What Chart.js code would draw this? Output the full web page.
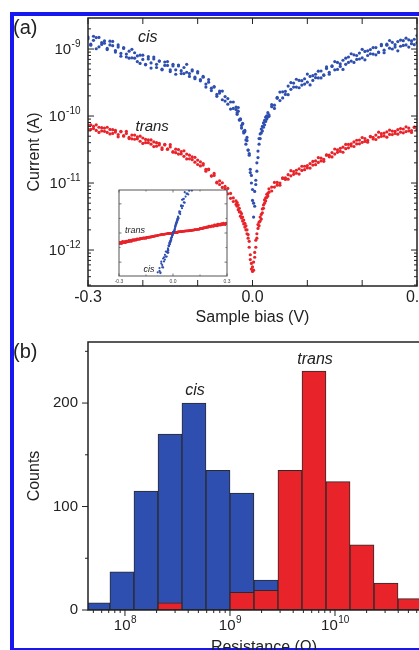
<!DOCTYPE html>
<html>
<head>
<meta charset="utf-8">
<script src="https://cdn.jsdelivr.net/npm/chart.js@4.4.1/dist/chart.umd.min.js"></script>
<style>
  html, body { margin: 0; padding: 0; background: #fff; width: 419px; height: 650px; overflow: hidden; }
  #frame { position: absolute; left: 10px; top: 12px; width: 480px; height: 640px; box-sizing: border-box; border: 4px solid #1717ef; }
  canvas { position: absolute; }
  .tag { position: absolute; font: 20px "Liberation Sans", Arial, sans-serif; color: #222; line-height: 20px; }
</style>
</head>
<body>
<div id="frame"></div>
<canvas id="ivChart" width="460" height="330" style="left:0;top:0"></canvas>
<canvas id="insetChart" width="140" height="106" style="left:100px;top:184px"></canvas>
<canvas id="histChart" width="460" height="340" style="left:0;top:330px"></canvas>
<div class="tag" style="left:13px;top:17px">(a)</div>
<div class="tag" style="left:13px;top:341px">(b)</div>
<script>
// ---- panel (a): I-V curves (two sweeps per molecule) ----
const bias = [
  -0.300, -0.295, -0.290, -0.285, -0.280, -0.275, -0.270, -0.265, -0.260, -0.255,
  -0.250, -0.245, -0.240, -0.235, -0.230, -0.225, -0.220, -0.215, -0.210, -0.205,
  -0.200, -0.195, -0.190, -0.185, -0.180, -0.175, -0.170, -0.165, -0.160, -0.155,
  -0.150, -0.145, -0.140, -0.135, -0.130, -0.125, -0.120, -0.115, -0.110, -0.105,
  -0.100, -0.095, -0.090, -0.085, -0.080, -0.075, -0.070, -0.065, -0.060, -0.055,
  -0.050, -0.045, -0.040, -0.035, -0.030,
  -0.028, -0.026, -0.024, -0.022, -0.020, -0.018, -0.016, -0.014, -0.012, -0.010,
  -0.008, -0.006, -0.004, -0.002, 0.000, 0.002, 0.004, 0.006, 0.008, 0.010,
  0.012, 0.014, 0.016, 0.018, 0.020, 0.022, 0.024, 0.026, 0.028,
  0.030, 0.035, 0.040, 0.045, 0.050, 0.055, 0.060, 0.065, 0.070, 0.075,
  0.080, 0.085, 0.090, 0.095, 0.100, 0.105, 0.110, 0.115, 0.120, 0.125,
  0.130, 0.135, 0.140, 0.145, 0.150, 0.155, 0.160, 0.165, 0.170, 0.175,
  0.180, 0.185, 0.190, 0.195, 0.200, 0.205, 0.210, 0.215, 0.220, 0.225,
  0.230, 0.235, 0.240, 0.245, 0.250, 0.255, 0.260, 0.265, 0.270, 0.275,
  0.280, 0.285, 0.290, 0.295, 0.300
];
const cisCurrent = [
  1.42e-9, 1.18e-9, 1.55e-9, 1.48e-9, 1.08e-9, 1.25e-9, 1.22e-9, 1.02e-9, 1.31e-9, 1.12e-9,
  9.0e-10, 1.15e-9, 8.6e-10, 1.02e-9, 7.6e-10, 9.3e-10, 7.4e-10, 8.8e-10, 6.5e-10, 8.1e-10,
  7.0e-10, 5.8e-10, 7.7e-10, 6.2e-10, 7.1e-10, 5.3e-10, 6.6e-10, 5.0e-10, 6.4e-10, 5.7e-10,
  4.6e-10, 5.9e-10, 4.9e-10, 5.6e-10, 4.3e-10, 5.3e-10, 4.5e-10, 3.9e-10, 4.9e-10, 3.8e-10,
  4.4e-10, 3.5e-10, 3.9e-10, 3.0e-10, 3.2e-10, 2.4e-10, 2.7e-10, 2.1e-10, 2.35e-10, 1.75e-10,
  1.95e-10, 1.5e-10, 1.62e-10, 1.3e-10, 1.36e-10,
  1.12e-10, 1.18e-10, 8.8e-11, 9.1e-11, 7.2e-11, 7.6e-11, 5.9e-11, 6.1e-11, 4.4e-11, 4.3e-11,
  3.1e-11, 2.6e-11, 1.6e-11, 1.0e-11, 5.5e-12, 3.1e-12, 7.5e-12, 9.5e-12, 1.5e-11, 3.0e-11,
  3.8e-11, 5.4e-11, 5.6e-11, 7.0e-11, 6.8e-11, 8.6e-11, 8.3e-11, 1.01e-10, 9.7e-11,
  1.04e-10, 1.38e-10, 1.45e-10, 1.9e-10, 1.7e-10, 2.3e-10, 2.1e-10, 2.8e-10, 2.5e-10, 3.1e-10,
  2.7e-10, 3.4e-10, 2.9e-10, 3.6e-10, 3.2e-10, 3.9e-10, 3.4e-10, 4.2e-10, 3.7e-10, 4.7e-10,
  4.1e-10, 5.1e-10, 4.5e-10, 5.6e-10, 4.9e-10, 6.3e-10, 5.5e-10, 6.8e-10, 5.9e-10, 7.6e-10,
  6.6e-10, 8.2e-10, 7.0e-10, 8.7e-10, 7.4e-10, 9.2e-10, 8.0e-10, 9.8e-10, 8.4e-10, 1.05e-9,
  9.0e-10, 1.12e-9, 9.6e-10, 1.18e-9, 1.03e-9, 1.26e-9, 1.07e-9, 1.29e-9, 1.1e-9, 1.33e-9,
  1.15e-9, 1.37e-9, 1.2e-9, 1.4e-9, 1.24e-9
];
const cisCurrentBack = [
  1.51e-9, 1.14e-9, 1.35e-9, 1.01e-9, 1.49e-9, 1.17e-9, 1.32e-9, 9.8e-10, 1.15e-9, 1.30e-9,
  9.5e-10, 1.07e-9, 7.8e-10, 1.05e-9, 8.4e-10, 7.3e-10, 9.9e-10, 7.3e-10, 7.9e-10, 6.1e-10,
  8.1e-10, 5.9e-10, 7.1e-10, 5.2e-10, 7.6e-10, 5.9e-10, 6.6e-10, 4.9e-10, 5.7e-10, 6.5e-10,
  4.9e-10, 5.6e-10, 4.2e-10, 5.75e-10, 4.75e-10, 4.3e-10, 5.9e-10, 4.3e-10, 4.7e-10, 3.6e-10,
  4.6e-10, 3.35e-10, 3.8e-10, 2.7e-10, 3.5e-10, 2.6e-10, 2.75e-10, 1.97e-10, 2.2e-10, 2.36e-10,
  1.67e-10, 1.82e-10, 1.27e-10, 1.62e-10, 1.25e-10,
  1.06e-10, 1.34e-10, 8.7e-11, 8.8e-11, 6.6e-11, 7.8e-11, 5.6e-11, 5.8e-11, 3.8e-11, 4.8e-11,
  3.1e-11, 2.75e-11, 1.43e-11, 1.3e-11, 8.0e-12, 5.0e-12, 4.5e-12, 1.1e-11, 2.0e-11, 2.4e-11,
  4.6e-11, 4.6e-11, 6.4e-11, 6.0e-11, 7.9e-11, 7.4e-11, 9.6e-11, 9.0e-11, 1.12e-10,
  9.9e-11, 1.48e-10, 1.3e-10, 1.84e-10, 2.28e-10, 1.86e-10, 2.34e-10, 2.08e-10, 3.16e-10, 2.7e-10,
  3.54e-10, 2.64e-10, 3.37e-10, 3.0e-10, 4.23e-10, 2.91e-10, 4.0e-10, 3.74e-10, 4.67e-10, 3.7e-10,
  4.05e-10, 5.4e-10, 4.2e-10, 5.5e-10, 6.5e-10, 4.96e-10, 6.0e-10, 4.96e-10, 7.3e-10, 6.3e-10,
  8.5e-10, 6.3e-10, 8.0e-10, 7.1e-10, 9.9e-10, 6.9e-10, 9.4e-10, 8.5e-10, 1.05e-9, 8.2e-10,
  8.9e-10, 1.17e-9, 8.8e-10, 1.14e-9, 1.34e-9, 1.0e-9, 1.16e-9, 9.4e-10, 1.36e-9, 1.13e-9,
  1.45e-9, 1.07e-9, 1.32e-9, 1.16e-9, 1.59e-9
];
const transCurrent = [
  7.3e-11, 6.3e-11, 7.0e-11, 6.1e-11, 6.8e-11, 6.0e-11, 6.6e-11, 5.7e-11, 6.3e-11, 5.5e-11,
  6.1e-11, 5.3e-11, 5.8e-11, 5.0e-11, 5.5e-11, 4.8e-11, 5.2e-11, 4.5e-11, 4.9e-11, 4.2e-11,
  4.7e-11, 4.0e-11, 4.4e-11, 3.8e-11, 4.1e-11, 3.55e-11, 3.9e-11, 3.35e-11, 3.7e-11, 3.2e-11,
  3.45e-11, 2.95e-11, 3.2e-11, 2.7e-11, 2.95e-11, 2.5e-11, 2.7e-11, 2.3e-11, 2.45e-11, 2.05e-11,
  2.2e-11, 1.8e-11, 1.95e-11, 1.6e-11, 1.58e-11, 1.27e-11, 1.3e-11, 1.03e-11, 1.08e-11, 8.6e-12,
  8.9e-12, 6.9e-12, 7.0e-12, 5.3e-12, 5.4e-12,
  4.5e-12, 4.7e-12, 3.7e-12, 3.7e-12, 3.0e-12, 3.1e-12, 2.45e-12, 2.5e-12, 2.0e-12, 2.0e-12,
  1.5e-12, 1.35e-12, 8.5e-13, 6.3e-13, 4.8e-13, 6.6e-13, 9.2e-13, 1.1e-12, 1.75e-12, 2.1e-12,
  2.6e-12, 2.7e-12, 3.4e-12, 3.6e-12, 4.7e-12, 5.0e-12, 6.0e-12, 6.1e-12, 7.0e-12,
  7.3e-12, 8.7e-12, 8.7e-12, 1.02e-11, 1.0e-11, 1.17e-11, 1.13e-11, 1.33e-11, 1.28e-11, 1.48e-11,
  1.4e-11, 1.63e-11, 1.54e-11, 1.78e-11, 1.68e-11, 1.95e-11, 1.85e-11, 2.14e-11, 2.03e-11, 2.35e-11,
  2.25e-11, 2.6e-11, 2.46e-11, 2.85e-11, 2.7e-11, 3.13e-11, 2.97e-11, 3.43e-11, 3.25e-11, 3.77e-11,
  3.57e-11, 4.1e-11, 3.83e-11, 4.38e-11, 4.05e-11, 4.62e-11, 4.34e-11, 4.9e-11, 4.55e-11, 5.2e-11,
  4.82e-11, 5.45e-11, 5.04e-11, 5.78e-11, 5.32e-11, 5.97e-11, 5.5e-11, 6.26e-11, 5.73e-11, 6.4e-11,
  5.86e-11, 6.62e-11, 6.08e-11, 6.77e-11, 6.2e-11
];
const transCurrentBack = [
  6.4e-11, 7.4e-11, 6.5e-11, 7.4e-11, 5.7e-11, 6.7e-11, 5.9e-11, 6.8e-11, 5.4e-11, 6.25e-11,
  5.75e-11, 4.9e-11, 5.9e-11, 5.1e-11, 5.9e-11, 4.6e-11, 4.56e-11, 5.2e-11, 4.56e-11, 5.0e-11,
  3.9e-11, 4.47e-11, 4.0e-11, 4.4e-11, 3.5e-11, 4.0e-11, 3.7e-11, 3.17e-11, 3.78e-11, 3.2e-11,
  3.73e-11, 2.88e-11, 2.84e-11, 3.16e-11, 2.72e-11, 3.02e-11, 2.29e-11, 2.6e-11, 2.23e-11, 2.42e-11,
  1.89e-11, 2.07e-11, 1.85e-11, 1.5e-11, 1.62e-11, 1.28e-11, 1.39e-11, 1.0e-11, 9.5e-12, 1.01e-11,
  8.2e-12, 8.3e-12, 5.9e-12, 6.0e-12, 4.8e-12,
  5.1e-12, 4.0e-12, 4.2e-12, 3.2e-12, 3.5e-12, 2.7e-12, 2.8e-12, 2.2e-12, 2.3e-12, 1.75e-12,
  1.7e-12, 1.1e-12, 7.2e-13, 5.2e-13, 5.6e-13, 5.0e-13, 7.8e-13, 1.4e-12, 1.5e-12, 2.4e-12,
  2.3e-12, 3.1e-12, 2.9e-12, 4.1e-12, 4.2e-12, 5.6e-12, 5.4e-12, 6.8e-12, 6.4e-12,
  8.2e-12, 7.6e-12, 1.02e-11, 9.3e-12, 9.3e-12, 1.19e-11, 1.19e-11, 1.14e-11, 1.53e-11, 1.35e-11,
  1.55e-11, 1.36e-11, 1.78e-11, 1.58e-11, 1.82e-11, 1.67e-11, 2.1e-11, 1.88e-11, 2.4e-11, 2.13e-11,
  2.11e-11, 2.63e-11, 2.6e-11, 2.45e-11, 3.22e-11, 2.87e-11, 3.29e-11, 2.88e-11, 3.77e-11, 3.35e-11,
  3.84e-11, 3.51e-11, 4.35e-11, 3.84e-11, 4.78e-11, 4.18e-11, 4.07e-11, 4.96e-11, 4.79e-11, 4.46e-11,
  5.73e-11, 4.98e-11, 5.57e-11, 4.84e-11, 6.16e-11, 5.29e-11, 5.92e-11, 5.36e-11, 6.51e-11, 5.61e-11,
  6.91e-11, 5.99e-11, 5.7e-11, 6.84e-11, 6.5e-11
];
const biasTicks = [-0.3, -0.2, -0.1, 0, 0.1, 0.2, 0.3];
const biasLabels = ['-0.3', '', '', '0.0', '', '', '0.3'];
const currentDecades = [1e-12, 1e-11, 1e-10, 1e-9];
const currentLabels = ['10^-12', '10^-11', '10^-10', '10^-9'];

// inset (linear I-V)
const insetBiasTicks = [-0.3, -0.15, 0, 0.15, 0.3];
const insetBiasLabels = ['-0.3', '', '0.0', '', '0.3'];
const insetCurrentTicks = [-2e-10, -1e-10, 0, 1e-10, 2e-10];
const insetCurrentLabels = ['-2.0x10⁻¹⁰', '', '0.0', '', '2.0x10⁻¹⁰'];

// ---- panel (b): resistance histogram ----
const binCenters = [5.534e7, 9.354e7, 1.585e8, 2.685e8, 4.539e8, 7.691e8, 1.300e9,
  2.203e9, 3.724e9, 6.310e9, 1.069e10, 1.807e10, 3.062e10, 5.176e10];
const cisCounts   = [7, 37, 115, 170, 200, 135, 113, 29, 0, 0, 0, 0, 0, 0];
const transCounts = [0, 0, 0, 7, 0, 0, 17, 19, 135, 231, 124, 63, 26, 11];
const countTicks = [0, 50, 100, 150, 200, 250];
const countLabels = ['0', '', '100', '', '200', ''];
const resistanceDecades = [1e8, 1e9, 1e10];
const resistanceLabels = ['10^8', '10^9', '10^10'];

const BLUE = '#2f4fb0';
const RED = '#e8232a';
const INK = '#222';
const FONT = '"Liberation Sans", Arial, sans-serif';

Chart.defaults.font.family = FONT;
Chart.defaults.color = INK;

// frame + tick marks drawn along the chart area
function boxTicks(cfg) {
  return {
    id: 'boxTicks',
    beforeDatasetsDraw(chart) {
      if (!cfg.background) return;
      const { ctx, chartArea: a } = chart;
      ctx.save();
      ctx.fillStyle = cfg.background;
      ctx.fillRect(a.left, a.top, a.right - a.left, a.bottom - a.top);
      ctx.restore();
    },
    afterDraw(chart) {
      const { ctx, chartArea: a, scales: { x, y } } = chart;
      const d = cfg.inward ? 1 : -1;
      ctx.save();
      ctx.strokeStyle = cfg.color;
      ctx.lineWidth = cfg.tickWidth;
      ctx.beginPath();
      x.ticks.forEach(t => {
        const p = x.getPixelForValue(t.value);
        const len = t.major ? cfg.major : cfg.minor;
        ctx.moveTo(p, a.bottom); ctx.lineTo(p, a.bottom - d * len);
        if (cfg.mirror) { ctx.moveTo(p, a.top); ctx.lineTo(p, a.top + len); }
      });
      y.ticks.forEach(t => {
        const p = y.getPixelForValue(t.value);
        const len = t.major ? cfg.major : cfg.minor;
        ctx.moveTo(a.left, p); ctx.lineTo(a.left + d * len, p);
        if (cfg.mirror) { ctx.moveTo(a.right, p); ctx.lineTo(a.right - len, p); }
      });
      ctx.stroke();
      ctx.lineWidth = cfg.frameWidth;
      ctx.strokeRect(a.left, a.top, a.right - a.left, a.bottom - a.top);
      ctx.restore();
    }
  };
}

// "10^n" tick labels with a real raised exponent
function powerLabels(axis, decades, labels, cfg) {
  return {
    id: 'powerLabels',
    afterDraw(chart) {
      const { ctx, chartArea: a } = chart;
      const s = chart.scales[axis];
      ctx.save();
      ctx.fillStyle = INK;
      ctx.textBaseline = 'middle';
      ctx.textAlign = 'left';
      decades.forEach((d, i) => {
        const [base, exp] = labels[i].split('^');
        const p = s.getPixelForValue(d);
        ctx.font = cfg.baseFont; const bw = ctx.measureText(base).width;
        ctx.font = cfg.expFont; const ew = ctx.measureText(exp).width;
        let x0, y0;
        if (axis === 'y') { x0 = a.left - cfg.gap - bw - ew; y0 = p + cfg.shift; }
        else { x0 = p - (bw + ew) / 2; y0 = a.bottom + cfg.gap; }
        ctx.font = cfg.baseFont; ctx.fillText(base, x0, y0);
        ctx.font = cfg.expFont; ctx.fillText(exp, x0 + bw + 0.5, y0 - cfg.raise);
      });
      ctx.restore();
    }
  };
}

function notes(items) {
  return {
    id: 'notes',
    afterDatasetsDraw(chart) {
      const { ctx, scales: { x, y } } = chart;
      ctx.save();
      ctx.textAlign = 'center';
      ctx.textBaseline = 'middle';
      ctx.fillStyle = INK;
      items.forEach(n => {
        ctx.font = n.font;
        ctx.fillText(n.text, x.getPixelForValue(n.x), y.getPixelForValue(n.y));
      });
      ctx.restore();
    }
  };
}

function logTicks(scale) {
  const out = [];
  const e0 = Math.floor(Math.log10(scale.min)), e1 = Math.floor(Math.log10(scale.max));
  for (let e = e0; e <= e1; e++) {
    for (let m = 1; m <= 9; m++) {
      const v = m * Math.pow(10, e);
      if (v >= scale.min && v <= scale.max) out.push({ value: v, major: m === 1 });
    }
  }
  scale.ticks = out;
}

const noGrid = { display: false, drawTicks: false };
const noBorder = { display: false };
const points = (ys, color, r) => ({
  data: bias.map((v, i) => ({ x: v, y: ys[i] })),
  backgroundColor: color, pointRadius: r, pointBorderWidth: 0
});
const signed = ys => bias.map((v, i) => (v < 0 ? -ys[i] : ys[i]));

// panel (a)
new Chart(document.getElementById('ivChart'), {
  type: 'scatter',
  data: {
    datasets: [
      { label: 'cis', ...points(cisCurrent, BLUE, 1.6) },
      { label: 'cis back', ...points(cisCurrentBack, BLUE, 1.6) },
      { label: 'trans', ...points(transCurrent, RED, 1.6) },
      { label: 'trans back', ...points(transCurrentBack, RED, 1.6) }
    ]
  },
  options: {
    responsive: false,
    animation: false,
    layout: { padding: { top: 18, right: 43, bottom: 0, left: 0 } },
    plugins: { legend: { display: false }, tooltip: { enabled: false } },
    scales: {
      x: {
        type: 'linear', min: -0.3, max: 0.3,
        grid: noGrid, border: noBorder,
        afterBuildTicks: s => { s.ticks = biasTicks.map(v => ({ value: v, major: true })); },
        afterFit: s => { s.height = 44; s.paddingLeft = 0; s.paddingRight = 0; },
        ticks: { autoSkip: false, maxRotation: 0, padding: 2.4, font: { size: 16 },
          callback: (v, i) => biasLabels[i] },
        title: { display: true, text: 'Sample bias (V)', font: { size: 16 }, padding: { top: 0, bottom: 2.4 } }
      },
      y: {
        type: 'logarithmic', min: 2.904e-13, max: 2.904e-9,
        grid: noGrid, border: noBorder,
        afterBuildTicks: logTicks,
        afterFit: s => { s.width = 88; s.paddingTop = 0; s.paddingBottom = 0; },
        ticks: { autoSkip: false, padding: 10, callback: () => '' },
        title: { display: true, text: 'Current (A)', font: { size: 16 }, padding: { top: 25, bottom: 0 } }
      }
    }
  },
  plugins: [
    boxTicks({ inward: true, mirror: true, color: INK, tickWidth: 1, frameWidth: 1.5, major: 6, minor: 3 }),
    powerLabels('y', currentDecades, currentLabels,
      { baseFont: '15px ' + FONT, expFont: '10px ' + FONT, gap: 8, shift: 1, raise: 6 }),
    notes([
      { text: 'cis', x: -0.191, y: 1.5e-9, font: 'italic 16px ' + FONT },
      { text: 'trans', x: -0.183, y: 6.9e-11, font: 'italic 15px ' + FONT }
    ])
  ]
});

// inset of panel (a): same sweeps on a linear current axis
new Chart(document.getElementById('insetChart'), {
  type: 'scatter',
  data: {
    datasets: [
      { label: 'cis', ...points(signed(cisCurrent), BLUE, 1.1) },
      { label: 'cis back', ...points(signed(cisCurrentBack), BLUE, 1.1) },
      { label: 'trans', ...points(signed(transCurrent), RED, 1.2) },
      { label: 'trans back', ...points(signed(transCurrentBack), RED, 1.2) }
    ]
  },
  options: {
    responsive: false,
    animation: false,
    layout: { padding: { top: 6, right: 13, bottom: 0, left: 19 } },
    plugins: { legend: { display: false }, tooltip: { enabled: false } },
    scales: {
      x: {
        type: 'linear', min: -0.3, max: 0.3,
        grid: noGrid, border: noBorder,
        afterBuildTicks: s => { s.ticks = insetBiasTicks.map((v, i) => ({ value: v, major: insetBiasLabels[i] !== '' })); },
        afterFit: s => { s.height = 14; s.paddingLeft = 0; s.paddingRight = 0; },
        ticks: { autoSkip: false, maxRotation: 0, padding: 3, font: { size: 5 }, color: '#444',
          callback: (v, i) => insetBiasLabels[i] }
      },
      y: {
        type: 'linear', min: -2.95e-10, max: 2.95e-10,
        grid: noGrid, border: noBorder,
        afterBuildTicks: s => { s.ticks = insetCurrentTicks.map((v, i) => ({ value: v, major: insetCurrentLabels[i] !== '' })); },
        afterFit: s => { s.width = 0; s.paddingTop = 0; s.paddingBottom = 0; },
        ticks: { autoSkip: false, mirror: true, crossAlign: 'far', padding: 0, font: { size: 5 }, color: '#444',
          callback: (v, i) => insetCurrentLabels[i] }
      }
    }
  },
  plugins: [
    boxTicks({ inward: true, mirror: true, color: '#555', tickWidth: 0.8, frameWidth: 1, major: 2.5, minor: 1.5, background: '#fff' }),
    notes([
      { text: 'trans', x: -0.211, y: 2e-11, font: 'italic 9px ' + FONT },
      { text: 'cis', x: -0.133, y: -2.5e-10, font: 'italic 9px ' + FONT }
    ])
  ]
});

// panel (b)
new Chart(document.getElementById('histChart'), {
  type: 'bar',
  data: {
    datasets: [{
      label: 'trans',
      data: binCenters.map((r, i) => ({ x: r, y: transCounts[i] })),
      backgroundColor: RED, borderColor: '#2a2a2a', borderWidth: 1, borderSkipped: false,
      stack: 'bins', barThickness: 24
    }, {
      label: 'cis',
      data: binCenters.map((r, i) => ({ x: r, y: cisCounts[i] })),
      backgroundColor: BLUE, borderColor: '#2a2a2a', borderWidth: 1, borderSkipped: false,
      stack: 'bins', barThickness: 24
    }]
  },
  options: {
    responsive: false,
    animation: false,
    layout: { padding: { top: 12, right: 20, bottom: 0, left: 0 } },
    plugins: { legend: { display: false }, tooltip: { enabled: false } },
    scales: {
      x: {
        type: 'logarithmic', min: 4.446e7, max: 1e11, offset: false, stacked: true,
        grid: noGrid, border: noBorder,
        afterBuildTicks: logTicks,
        afterFit: s => { s.height = 60; s.paddingLeft = 0; s.paddingRight = 0; },
        ticks: { autoSkip: false, maxRotation: 0, callback: () => '' },
        title: { display: true, text: 'Resistance (Ω)', font: { size: 16 }, padding: { top: 0, bottom: 12.4 } }
      },
      y: {
        type: 'linear', min: 0, max: 259, stacked: false,
        grid: noGrid, border: noBorder,
        afterBuildTicks: s => { s.ticks = countTicks.map((v, i) => ({ value: v, major: countLabels[i] !== '' })); },
        afterFit: s => { s.width = 88; s.paddingTop = 0; s.paddingBottom = 0; },
        ticks: { autoSkip: false, padding: 10, font: { size: 15 },
          callback: (v, i) => countLabels[i] },
        title: { display: true, text: 'Counts', font: { size: 16 }, padding: { top: 25, bottom: 0 } }
      }
    }
  },
  plugins: [
    boxTicks({ inward: false, mirror: false, color: INK, tickWidth: 1, frameWidth: 1.5, major: 6, minor: 3 }),
    powerLabels('x', resistanceDecades, resistanceLabels,
      { baseFont: '15px ' + FONT, expFont: '10px ' + FONT, gap: 16, shift: 0, raise: 6 }),
    notes([
      { text: 'cis', x: 4.64e8, y: 212, font: 'italic 16px ' + FONT },
      { text: 'trans', x: 6.45e9, y: 242, font: 'italic 16px ' + FONT }
    ])
  ]
});
</script>
</body>
</html>
